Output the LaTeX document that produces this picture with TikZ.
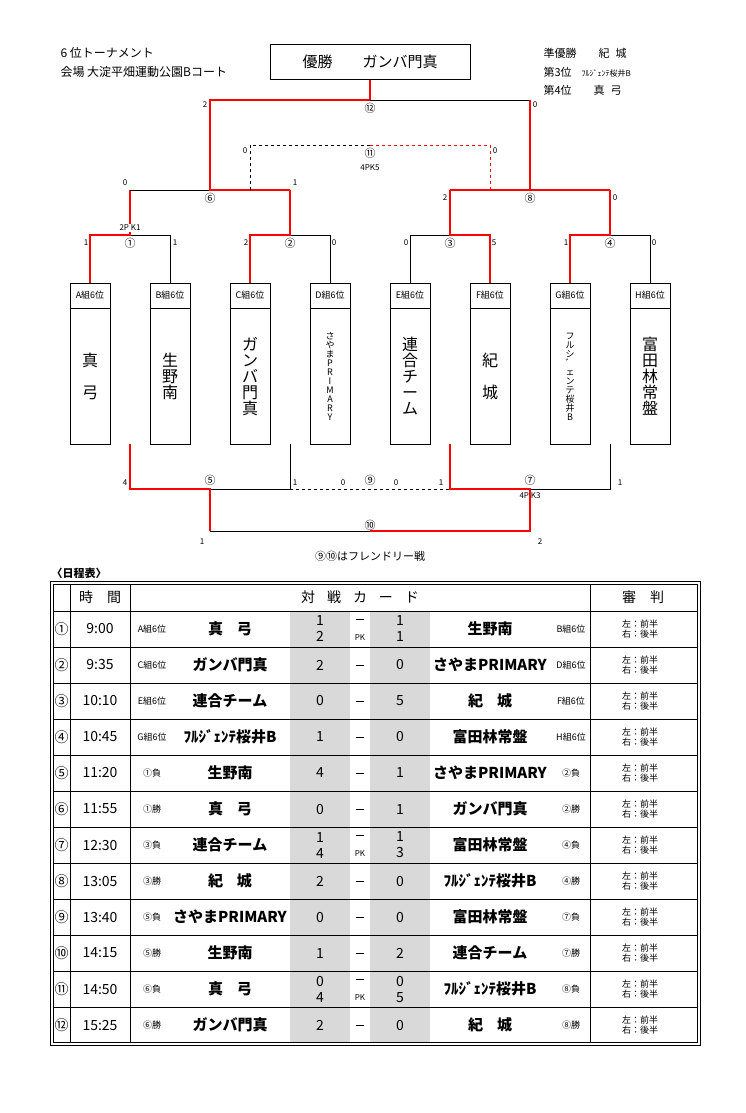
\documentclass[tikz,border=0pt]{standalone}
\usepackage{fontspec}
\setmainfont{Noto Sans CJK JP}
\usetikzlibrary{positioning,calc}
\tikzset{
  win/.style={red, line width=1.6pt},
  lose/.style={black, line width=0.6pt},
  hdr/.style={draw, minimum width=40pt, minimum height=25pt, inner sep=0pt, font=\fontsize{9}{9}\selectfont},
  body/.style={draw, minimum width=40pt, minimum height=136pt, inner sep=0pt, align=center},
  sc/.style={font=\fontsize{8}{8}\selectfont, inner sep=1pt},
  cnum/.style={font=\fontsize{11}{11}\selectfont, inner sep=0pt},
  cell/.style={font=\fontsize{14}{14}\selectfont, inner sep=0pt},
  tiny/.style={font=\fontsize{9}{9}\selectfont, inner sep=0pt}
}
\begin{document}
\begin{tikzpicture}[x=1pt,y=-1pt]
  \useasboundingbox (0,0) rectangle (746,1113);
  \fill[white] (0,0) rectangle (746,1113);
  % Header texts
  \node[anchor=west, font=\fontsize{12}{12}\selectfont] (title) at (57,53) {6 位トーナメント};
  \node[anchor=west, font=\fontsize{12}{12}\selectfont] (venue) at (57,72) {会場 大淀平畑運動公園Bコート};
  \node[draw, thick, minimum width=200pt, minimum height=35pt, font=\fontsize{15}{15}\selectfont] (champ) at (370,62) {優勝\hspace{30pt}ガンバ門真};
  \node[anchor=west, font=\fontsize{11}{11}\selectfont] (p2) at (540,53) {準優勝\hspace{22pt}紀\hspace{6pt}城};
  \node[anchor=west, font=\fontsize{11}{11}\selectfont] (p3) at (540,72) {第3位\hspace{10pt}{\fontsize{8}{8}\selectfont ﾌﾙｼﾞｪﾝﾃ桜井B}};
  \node[anchor=west, font=\fontsize{11}{11}\selectfont] (p4) at (540,90) {第4位\hspace{22pt}真\hspace{6pt}弓};

  % Team boxes
  \foreach \t/\x/\nm/\fs in {A/90/真\\[16pt]弓/16, B/170/生\\野\\南/16, C/250/ガ\\ン\\バ\\門\\真/16,
      D/330/さ\\や\\ま\\P\\R\\I\\M\\A\\R\\Y/9, E/410/連\\合\\チ\\ー\\ム/16, F/490/紀\\[16pt]城/16,
      G/570/フ\\ル\\シ\\゛\\ェ\\ン\\テ\\桜\\井\\B/9, H/650/富\\田\\林\\常\\盤/16}{
    \node[hdr] (h\t) at (\x,295.5) {\t 組6位};
    \node[body, font=\fontsize{\fs}{\fs}\selectfont, below=0pt of h\t] (t\t) {\nm};
  }

  % Junctions
  \coordinate (m1) at (130,235);  \coordinate (m2) at (290,235);
  \coordinate (m3) at (450,235);  \coordinate (m4) at (610,235);
  \coordinate (m6) at (210,190);  \coordinate (m8) at (530,190);
  \coordinate (m11) at (370,145); \coordinate (m12) at (370,100);
  \coordinate (m5) at (210,489);  \coordinate (m9) at (370,489);
  \coordinate (m7) at (530,489);  \coordinate (m10) at (370,531);
  \coordinate (d6) at (250,190);  \coordinate (d8) at (490,190);
  \coordinate (bAB) at (130,444); \coordinate (bCD) at (290,444);
  \coordinate (bEF) at (450,444); \coordinate (bGH) at (610,444);

  % Round 1
  \draw[lose] (hB.north) |- (m1);
  \draw[win] (hA.north) |- (m1) -- (m1 |- m6);
  \draw[lose] (hD.north) |- (m2);
  \draw[win] (hC.north) |- (m2) -- (m2 |- m6);
  \draw[lose] (hE.north) |- (m3);
  \draw[win] (hF.north) |- (m3) -- (m3 |- m8);
  \draw[lose] (hH.north) |- (m4);
  \draw[win] (hG.north) |- (m4) -- (m4 |- m8);
  % Round 2
  \draw[lose] (m1 |- m6) -- (m6);
  \draw[win] (m2 |- m6) -- (m6) -- (m6 |- m12) -- (m12) -- (champ.south);
  \draw[win] (m3 |- m8) -- (m4 |- m8);
  \draw[lose] (m12) -- (m8 |- m12);
  \draw[win] (m8 |- m12) -- (m8);
  % 3rd place
  \draw[lose, dashed] (d6) |- (m11);
  \draw[red, dashed, line width=0.6pt] (m11) -| (d8);
  % Lower bracket
  \draw[lose] (bCD) |- (m5);
  \draw[win] (bAB) |- (m5) -- (m5 |- m10);
  \draw[lose] (m5 |- m10) -- (m10);
  \draw[lose, dashed] (bCD |- m9) -- (bEF |- m9);
  \draw[lose] (bGH) |- (m7);
  \draw[win] (bEF) |- (m7) -- (m7 |- m10) -- (m10);

  % Match numbers
  \foreach \m/\c in {m1/①, m2/②, m3/③, m4/④, m6/⑥, m8/⑧, m11/⑪, m12/⑫}
    \node[cnum, fill=white] at ($(\m)+(0,8)$) {\c};
  \foreach \m/\c in {m5/⑤, m9/⑨, m7/⑦}
    \node[cnum, fill=white] at ($(\m)+(0,-9)$) {\c};
  \node[cnum, fill=white] at ($(m10)+(0,-6)$) {⑩};
  \node[sc] at (370,168) {4PK5};
  \node[sc, fill=white] at (130,228) {2P K1};
  \node[sc] at (530,496) {4P K3};

  % Scores
  \foreach \x/\y/\s in {86/243/1, 175/243/1, 246/243/2, 334/243/0, 406/243/0, 494/243/5, 566/243/1, 654/243/0,
      125/183/0, 295/183/1, 445/198/2, 615/198/0, 205/105/2, 535/105/0, 245/151/0, 495/151/0,
      125/483/4, 295/483/1, 343/483/0, 396/483/0, 441/483/1, 620/483/1, 202/542/1, 540/542/2}
    \node[sc] at (\x,\y) {\s};
  \node[font=\fontsize{11}{11}\selectfont] (note) at (370,556) {⑨⑩はフレンドリー戦};

  % Schedule table
  \node[anchor=west, font=\bfseries\fontsize{11}{11}\selectfont] (sched) at (48,573) {〈日程表〉};
  \fill[gray!30] (290,611) rectangle (350,1042);
  \fill[gray!30] (370,611) rectangle (430,1042);
  \draw[line width=0.8pt] (50,581) rectangle (700,1045);
  \draw[line width=0.6pt] (53,584) rectangle (697,1042);
  \foreach \x in {70,130,590} \draw[line width=0.6pt] (\x,584) -- (\x,1042);
  \foreach \k in {0,...,11} \draw[line width=0.6pt] (53,611+36*\k) -- (697,611+36*\k);
  \node[cell] at (100,597) {時\hspace{14pt}間};
  \node[cell] at (360,597) {対\hspace{12pt}戦\hspace{12pt}カ\hspace{12pt}ー\hspace{12pt}ド};
  \node[cell] at (643,597) {審\hspace{14pt}判};
  \foreach \n/\tm/\gl/\l/\sa/\sb/\pk/\r/\gr [count=\i] in {
      ①/9:00/A組6位/真\hspace{14pt}弓/1\\2/1\\1/1/生野南/B組6位,
      ②/9:35/C組6位/ガンバ門真/2/0/0/さやまPRIMARY/D組6位,
      ③/10:10/E組6位/連合チーム/0/5/0/紀\hspace{14pt}城/F組6位,
      ④/10:45/G組6位/ﾌﾙｼﾞｪﾝﾃ桜井B/1/0/0/富田林常盤/H組6位,
      ⑤/11:20/①負/生野南/4/1/0/さやまPRIMARY/②負,
      ⑥/11:55/①勝/真\hspace{14pt}弓/0/1/0/ガンバ門真/②勝,
      ⑦/12:30/③負/連合チーム/1\\4/1\\3/1/富田林常盤/④負,
      ⑧/13:05/③勝/紀\hspace{14pt}城/2/0/0/ﾌﾙｼﾞｪﾝﾃ桜井B/④勝,
      ⑨/13:40/⑤負/さやまPRIMARY/0/0/0/富田林常盤/⑦負,
      ⑩/14:15/⑤勝/生野南/1/2/0/連合チーム/⑦勝,
      ⑪/14:50/⑥負/真\hspace{14pt}弓/0\\4/0\\5/1/ﾌﾙｼﾞｪﾝﾃ桜井B/⑧負,
      ⑫/15:25/⑥勝/ガンバ門真/2/0/0/紀\hspace{14pt}城/⑧勝}{
    \pgfmathsetmacro\yy{611+36*\i-18}
    \node[cell] at (61.5,\yy) {\n};
    \node[cell] at (100,\yy) {\tm};
    \node[tiny] at (152,\yy) {\gl};
    \node[cell, font=\bfseries\fontsize{15}{15}\selectfont] at (230,\yy) {\l};
    \node[cell, align=center, font=\fontsize{14}{16}\selectfont] at (320,\yy) {\sa};
    \node[cell, align=center, font=\fontsize{14}{16}\selectfont] at (400,\yy) {\sb};
    \node[cell, font=\bfseries\fontsize{15}{15}\selectfont] at (490,\yy) {\r};
    \node[tiny] at (571,\yy) {\gr};
    \node[tiny, align=center, font=\fontsize{9}{10.5}\selectfont] at (640,\yy) {左：前半\\右：後半};
    \ifnum\pk=1
      \draw[line width=0.8pt] (356,\yy-10) -- (364,\yy-10);
      \node[tiny, font=\fontsize{8}{8}\selectfont] at (360,\yy+9) {PK};
    \else
      \draw[line width=0.8pt] (356,\yy) -- (364,\yy);
    \fi
  }
\end{tikzpicture}
\end{document}
